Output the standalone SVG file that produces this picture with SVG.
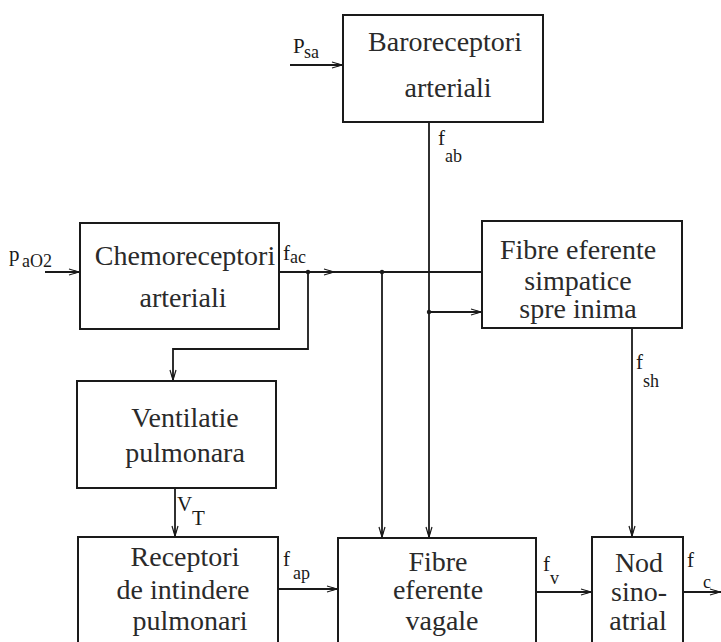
<svg xmlns="http://www.w3.org/2000/svg" width="721" height="642" viewBox="0 0 721 642">
<defs>
<style>
.box{fill:#fff;stroke:#1a1a1a;stroke-width:2}
text{font-family:"Liberation Serif","Times New Roman",serif}
.t{font-size:28px;fill:#2a2a2a;text-anchor:middle}
.l{font-size:21px;fill:#1a1a1a}
.s{font-size:18px;fill:#1a1a1a}
.c{fill:none;stroke:#1a1a1a;stroke-width:1.8}
.dot{fill:#1a1a1a}
</style>
<marker id="arr" viewBox="0 0 12 8" refX="12" refY="4" markerWidth="12" markerHeight="8" markerUnits="userSpaceOnUse" orient="auto">
<path d="M1,1 L11,4 L1,7" fill="none" stroke="#1a1a1a" stroke-width="1.2"/>
<path d="M6,2.3 L12,4 L6,5.7 Z" fill="#1a1a1a"/>
</marker>
</defs>
<rect width="721" height="642" fill="#fff"/>

<g id="connectors">
<path class="c" d="M290,65 H343" marker-end="url(#arr)"/>
<path class="c" d="M429,122 V538" marker-end="url(#arr)"/>
<path class="c" d="M45,272 H80" marker-end="url(#arr)"/>
<path class="c" d="M279,272 H335" marker-end="url(#arr)"/>
<path class="c" d="M335,272 H482"/>
<path class="c" d="M308,272 V349 H173 V381" marker-end="url(#arr)"/>
<path class="c" d="M382,272 V538" marker-end="url(#arr)"/>
<path class="c" d="M429,312 H482" marker-end="url(#arr)"/>
<path class="c" d="M175,488 V537" marker-end="url(#arr)"/>
<path class="c" d="M278,589 H338" marker-end="url(#arr)"/>
<path class="c" d="M536,592 H592" marker-end="url(#arr)"/>
<path class="c" d="M632,328 V537" marker-end="url(#arr)"/>
<path class="c" d="M683,592 H721" marker-end="url(#arr)"/>
<circle class="dot" cx="308" cy="272" r="2.2"/>
<circle class="dot" cx="382" cy="272" r="2.2"/>
<circle class="dot" cx="429" cy="312" r="2.2"/>
<text class="l" x="293" y="53">P</text><text class="s" x="304" y="58">sa</text>
<text class="l" x="438" y="145">f</text><text class="s" x="445" y="162">ab</text>
<text class="l" x="9" y="261">p</text><text class="s" x="22" y="267">aO2</text>
<text class="l" x="283" y="260">f</text><text class="s" x="290" y="263">ac</text>
<text class="l" x="636" y="369">f</text><text class="s" x="643" y="387">sh</text>
<text class="l" x="177" y="511">V</text><text class="l" x="192" y="525">T</text>
<text class="l" x="283" y="566">f</text><text class="s" x="293" y="579">ap</text>
<text class="l" x="543" y="571">f</text><text class="s" x="550" y="584">v</text>
<text class="l" x="687" y="567">f</text><text class="s" x="703" y="588">c</text>
</g>

<g id="baroreceptori">
<rect class="box" x="343" y="15" width="200" height="107"/>
<text class="t" x="445" y="51">Baroreceptori</text>
<text class="t" x="448" y="97">arteriali</text>
</g>
<g id="chemoreceptori">
<rect class="box" x="80" y="223" width="199" height="106"/>
<text class="t" x="185" y="265">Chemoreceptori</text>
<text class="t" x="183" y="307">arteriali</text>
</g>
<g id="fibre-simpatice">
<rect class="box" x="482" y="221" width="200" height="107"/>
<text class="t" x="578" y="259">Fibre eferente</text>
<text class="t" x="578" y="290">simpatice</text>
<text class="t" x="578" y="318">spre inima</text>
</g>
<g id="ventilatie">
<rect class="box" x="77" y="381" width="199" height="107"/>
<text class="t" x="185" y="427">Ventilatie</text>
<text class="t" x="185" y="462">pulmonara</text>
</g>
<g id="receptori">
<rect class="box" x="78" y="537" width="200" height="120"/>
<text class="t" x="185" y="566">Receptori</text>
<text class="t" x="183" y="599">de intindere</text>
<text class="t" x="190" y="630">pulmonari</text>
</g>
<g id="fibre-vagale">
<rect class="box" x="338" y="538" width="198" height="120"/>
<text class="t" x="438" y="571">Fibre</text>
<text class="t" x="438" y="599">eferente</text>
<text class="t" x="442" y="630">vagale</text>
</g>
<g id="nod">
<rect class="box" x="592" y="537" width="91" height="120"/>
<text class="t" x="639" y="572">Nod</text>
<text class="t" x="639" y="601">sino-</text>
<text class="t" x="638" y="630">atrial</text>
</g>
</svg>
